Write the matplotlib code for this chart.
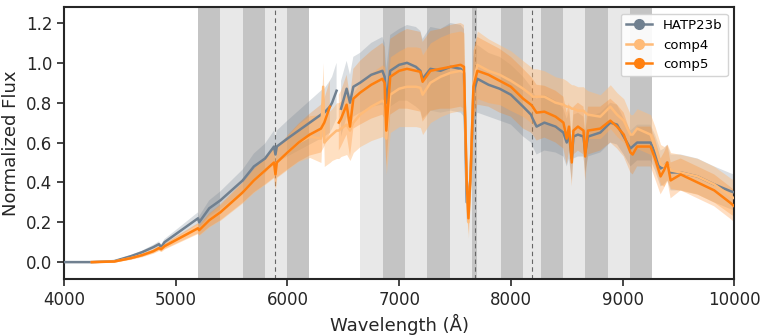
import numpy as np
import matplotlib
matplotlib.use("Agg")
import matplotlib.pyplot as plt
from matplotlib.lines import Line2D

nan = np.nan

# wavelength grid (Angstrom)
wavelength = [
    4000, 4250, 4450, 4600, 4700, 4800, 4850, 4870, 4900, 5000,
    5100, 5200, 5210, 5300, 5400, 5500, 5600, 5700, 5800, 5880,
    5893, 5905, 6000, 6100, 6200, 6300, 6320, 6330, 6380, 6400,
    6440, 6460, 6480, 6530, 6560, 6590, 6650, 6750, 6850, 6870,
    6885, 6920, 7000, 7070, 7150, 7190, 7210, 7280, 7370, 7460,
    7550, 7580, 7605, 7620, 7640, 7665, 7700, 7800, 7900, 8000,
    8110, 8180, 8195, 8230, 8300, 8400, 8470, 8500, 8520, 8545,
    8560, 8600, 8650, 8665, 8690, 8800, 8890, 8950, 9010, 9070,
    9090, 9130, 9250, 9290, 9340, 9370, 9400, 9430, 9520, 9670,
    9820, 9970, 10000,
]

hatp23b = [
    0.0, 0.0, 0.005, 0.03, 0.05, 0.075, 0.09, 0.075, 0.10, 0.14,
    0.18, 0.22, 0.20, 0.27, 0.31, 0.36, 0.41, 0.48, 0.52, 0.58,
    0.54, 0.58, 0.62, 0.66, 0.70, 0.74, 0.75, 0.75, 0.78, 0.80,
    0.86, nan, 0.77, 0.87, 0.80, 0.88, 0.90, 0.94, 0.96, 0.93,
    0.80, 0.96, 0.99, 1.00, 0.98, 0.96, 0.92, 0.97, 0.96, 0.98,
    0.97, 0.95, 0.30, 0.30, 0.43, 0.85, 0.92, 0.89, 0.87, 0.84,
    0.78, 0.74, 0.72, 0.68, 0.70, 0.68, 0.65, 0.60, 0.64, 0.52,
    0.63, 0.64, 0.63, 0.55, 0.63, 0.65, 0.70, 0.69, 0.63, 0.57,
    0.58, 0.60, 0.60, 0.55, 0.47, 0.48, 0.50, 0.45, 0.45, 0.43,
    0.39, 0.355, 0.35,
]
hatp23b_err = [
    0.0, 0.0, 0.003, 0.006, 0.008, 0.012, 0.014, 0.014, 0.016, 0.02,
    0.025, 0.03, 0.03, 0.04, 0.045, 0.05, 0.055, 0.065, 0.075, 0.08,
    0.08, 0.08, 0.09, 0.10, 0.11, 0.12, 0.12, 0.12, 0.13, 0.13,
    0.14, nan, 0.14, 0.14, 0.14, 0.15, 0.15, 0.16, 0.17, 0.17,
    0.17, 0.18, 0.18, 0.19, 0.20, 0.20, 0.20, 0.21, 0.21, 0.22,
    0.22, 0.22, 0.10, 0.08, 0.10, 0.18, 0.17, 0.16, 0.16, 0.15,
    0.15, 0.14, 0.14, 0.14, 0.14, 0.13, 0.12, 0.12, 0.12, 0.11,
    0.11, 0.11, 0.10, 0.10, 0.10, 0.10, 0.10, 0.10, 0.09, 0.09,
    0.09, 0.09, 0.09, 0.09, 0.09, 0.09, 0.09, 0.09, 0.09, 0.09,
    0.09, 0.09, 0.09,
]

comp4 = [
    nan, 0.0, 0.003, 0.02, 0.035, 0.055, 0.07, 0.065, 0.08, 0.11,
    0.14, 0.17, 0.16, 0.21, 0.25, 0.30, 0.35, 0.41, 0.46, 0.50,
    0.44, 0.50, 0.55, 0.60, 0.63, 0.62, 0.88, 0.60, 0.63, 0.64,
    0.66, 0.66, 0.67, 0.69, 0.66, 0.70, 0.74, 0.78, 0.81, 0.80,
    0.62, 0.84, 0.87, 0.88, 0.88, 0.875, 0.84, 0.90, 0.93, 0.95,
    0.96, 0.95, 0.40, 0.20, 0.45, 0.90, 0.99, 0.96, 0.94, 0.91,
    0.87, 0.84, 0.83, 0.83, 0.83, 0.80, 0.79, 0.78, 0.78, 0.77,
    0.77, 0.76, 0.76, 0.75, 0.74, 0.73, 0.78, 0.74, 0.71, 0.64,
    0.64, 0.67, 0.64, 0.58, 0.49, 0.48, 0.50, 0.46, 0.45, 0.43,
    0.39, 0.33, 0.32,
]
comp4_err = [
    nan, 0.0, 0.003, 0.006, 0.008, 0.01, 0.012, 0.012, 0.014, 0.018,
    0.022, 0.026, 0.026, 0.034, 0.04, 0.046, 0.052, 0.06, 0.07, 0.075,
    0.075, 0.075, 0.085, 0.095, 0.105, 0.12, 0.12, 0.12, 0.13, 0.13,
    0.14, 0.14, 0.14, 0.15, 0.15, 0.15, 0.16, 0.17, 0.18, 0.18,
    0.18, 0.19, 0.19, 0.20, 0.20, 0.20, 0.20, 0.20, 0.20, 0.20,
    0.20, 0.20, 0.10, 0.08, 0.10, 0.17, 0.17, 0.16, 0.15, 0.15,
    0.14, 0.14, 0.14, 0.14, 0.13, 0.13, 0.13, 0.13, 0.12, 0.12,
    0.12, 0.12, 0.12, 0.12, 0.12, 0.11, 0.11, 0.11, 0.11, 0.10,
    0.10, 0.10, 0.10, 0.10, 0.10, 0.10, 0.09, 0.09, 0.09, 0.09,
    0.09, 0.09, 0.09,
]

comp5 = [
    nan, 0.0, 0.003, 0.02, 0.035, 0.055, 0.07, 0.065, 0.08, 0.11,
    0.14, 0.17, 0.16, 0.21, 0.25, 0.30, 0.35, 0.41, 0.46, 0.50,
    0.44, 0.50, 0.55, 0.60, 0.64, 0.67, 0.69, 0.70, 0.78, nan,
    nan, 0.70, 0.72, 0.79, 0.68, 0.82, 0.85, 0.89, 0.92, 0.90,
    0.66, 0.93, 0.96, 0.97, 0.96, 0.955, 0.905, 0.96, 0.97, 0.98,
    0.99, 0.98, 0.40, 0.22, 0.45, 0.88, 0.96, 0.94, 0.91, 0.88,
    0.82, 0.79, 0.78, 0.75, 0.755, 0.73, 0.70, 0.62, 0.68, 0.50,
    0.66, 0.68, 0.66, 0.53, 0.66, 0.67, 0.71, 0.68, 0.64, 0.55,
    0.54, 0.58, 0.58, 0.52, 0.43, 0.46, 0.50, 0.41, 0.44, 0.40,
    0.36, 0.295, 0.28,
]
comp5_err = [
    nan, 0.0, 0.003, 0.006, 0.008, 0.01, 0.012, 0.012, 0.014, 0.018,
    0.022, 0.026, 0.026, 0.034, 0.04, 0.046, 0.052, 0.06, 0.07, 0.075,
    0.075, 0.075, 0.085, 0.095, 0.105, 0.12, 0.12, 0.12, 0.13, nan,
    nan, 0.14, 0.14, 0.15, 0.15, 0.15, 0.16, 0.17, 0.18, 0.18,
    0.18, 0.19, 0.19, 0.20, 0.20, 0.20, 0.20, 0.20, 0.20, 0.21,
    0.21, 0.21, 0.10, 0.08, 0.10, 0.18, 0.17, 0.16, 0.16, 0.15,
    0.15, 0.14, 0.14, 0.14, 0.13, 0.13, 0.13, 0.13, 0.12, 0.12,
    0.12, 0.12, 0.12, 0.12, 0.12, 0.11, 0.11, 0.11, 0.11, 0.10,
    0.10, 0.10, 0.10, 0.10, 0.09, 0.09, 0.09, 0.09, 0.08, 0.08,
    0.08, 0.08, 0.08,
]

# spectroscopic bins (start, end, shade)
bin_edges = [
    (5200, 5400, "dark"), (5400, 5600, "light"), (5600, 5800, "dark"),
    (5800, 6000, "light"), (6000, 6190, "dark"),
    (6650, 6855, "light"), (6855, 7055, "dark"), (7055, 7250, "light"),
    (7250, 7455, "dark"), (7455, 7652, "light"), (7652, 7697, "dark"),
    (7697, 7912, "light"), (7912, 8108, "dark"), (8108, 8272, "light"),
    (8272, 8469, "dark"), (8469, 8666, "light"), (8666, 8869, "dark"),
    (8869, 9069, "light"), (9069, 9266, "dark"),
]
line_centers = [5893, 7682, 8190]

series = [
    ("HATP23b", hatp23b, hatp23b_err, "#708090", 0.25),
    ("comp4", comp4, comp4_err, "#ffbb78", 0.45),
    ("comp5", comp5, comp5_err, "#ff7f0e", 0.25),
]

plt.rcParams["font.family"] = "DejaVu Sans"
fig = plt.figure(figsize=(7.67, 3.35), dpi=100)
ax = fig.add_axes([0.0834, 0.167, 0.874, 0.812])

shade = {"dark": "#c4c4c4", "light": "#e8e8e8"}
for start, end, kind in bin_edges:
    ax.axvspan(start, end, color=shade[kind], lw=0, zorder=0)
for wc in line_centers:
    ax.axvline(wc, color="#666666", lw=0.8, ls=(0, (4, 3)), zorder=1)

wl = np.array(wavelength, dtype=float)
for name, flux, err, color, alpha in series:
    f = np.array(flux)
    e = np.array(err)
    ax.fill_between(wl, f - e, f + e, color=color, alpha=alpha, lw=0, zorder=2)
handles = []
for name, flux, err, color, alpha in series:
    ax.plot(wl, flux, color=color, lw=1.8, zorder=3)
    handles.append(Line2D([], [], color=color, lw=1.8, marker="o", markersize=7, label=name))

ax.set_xlim(4000, 10000)
ax.set_ylim(-0.085, 1.28)
ax.set_yticks([0.0, 0.2, 0.4, 0.6, 0.8, 1.0, 1.2])
ax.set_xlabel("Wavelength (Å)", fontsize=13)
ax.set_ylabel("Normalized Flux", fontsize=13)
ax.tick_params(labelsize=12, length=5, width=1.2, color="#262626", labelcolor="#262626")
for sp in ax.spines.values():
    sp.set_linewidth(1.5)
    sp.set_color("#262626")
ax.xaxis.label.set_color("#262626")
ax.yaxis.label.set_color("#262626")

ax.legend(handles=handles, loc="upper right", fontsize=9.5, frameon=True,
          edgecolor="#d0d0d0", framealpha=0.9)

fig.savefig("out.png", dpi=100)
